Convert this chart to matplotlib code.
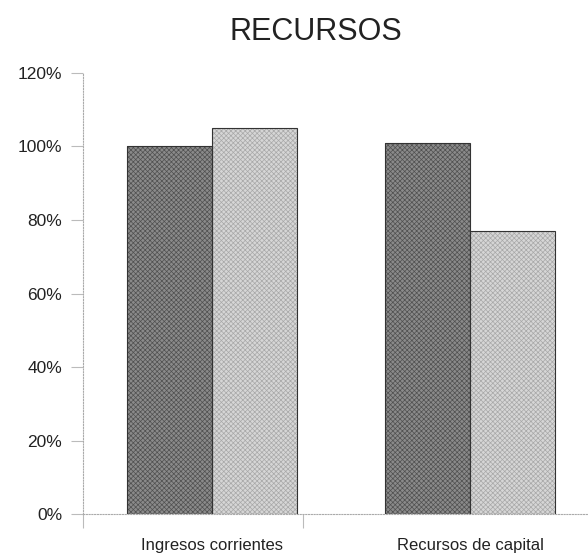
import numpy as np
import matplotlib.pyplot as plt

plt.rcParams['font.family'] = ['Liberation Sans', 'DejaVu Sans']
plt.rcParams['hatch.linewidth'] = 0.5

# data (percent)
categories = ['Ingresos corrientes', 'Recursos de capital']
serie_oscura = [100, 101]
serie_clara = [105, 77]
y_ticks = [0, 20, 40, 60, 80, 100, 120]

fig = plt.figure(figsize=(5.88, 5.53), dpi=100)
ax = fig.add_axes([0.141, 0.0705, 0.859, 0.7975])

x = np.arange(len(categories))
w = 0.33
ax.bar(x - w / 2, serie_oscura, w, color='#8a8a8a', edgecolor='#505050',
       hatch='xxxxxxx', linewidth=0)
ax.bar(x + w / 2, serie_clara, w, color='#d6d6d6', edgecolor='#a8a8a8',
       hatch='xxxxxxx', linewidth=0)
# bar outlines
ax.bar(x - w / 2, serie_oscura, w, fill=False, edgecolor='#333333', linewidth=0.8)
ax.bar(x + w / 2, serie_clara, w, fill=False, edgecolor='#333333', linewidth=0.8)

ax.set_xlim(-0.5, 1.457)
ax.set_ylim(0, 120)
ax.set_yticks(y_ticks)
ax.set_yticklabels([f'{v}%' for v in y_ticks], fontsize=12.5, color='#222222')

# category boundary ticks, labels at centres
ax.set_xticks([-0.5, 0.353])
ax.set_xticklabels(['', ''])
ax.set_xticks(x, minor=True)
ax.set_xticklabels(categories, minor=True, fontsize=12, color='#222222')
ax.tick_params(axis='x', which='minor', length=0, pad=17)
ax.tick_params(axis='x', which='major', length=10, color='#bbbbbb', width=0.8)
ax.tick_params(axis='y', length=9, color='#bbbbbb', width=0.8, pad=6)

for s in ['top', 'right']:
    ax.spines[s].set_visible(False)
for s in ['left', 'bottom']:
    ax.spines[s].set_color('#aaaaaa')
    ax.spines[s].set_linestyle((0, (1, 1.5)))
    ax.spines[s].set_linewidth(0.8)

fig.text(0.537, 0.942, 'RECURSOS', ha='center', va='center', fontsize=22,
         color='#222222')

plt.savefig('out.png', dpi=100)
